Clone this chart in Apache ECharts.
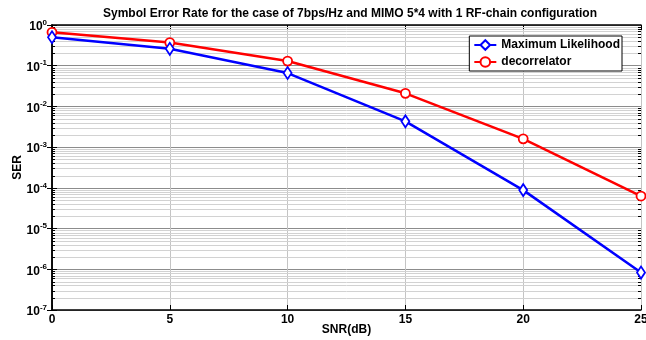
<!DOCTYPE html>
<html>
<head>
<meta charset="utf-8">
<script src="https://cdn.jsdelivr.net/npm/echarts@6/dist/echarts.min.js"></script>
<style>
  html, body { margin: 0; padding: 0; background: #fff; }
  #main { width: 646px; height: 340px; }
</style>
</head>
<body>
<div id="main"></div>
<script>
// SNR points (dB)
var snr = [0, 5, 10, 15, 20, 25];
// symbol error rates
var serML = [0.5, 0.26, 0.066, 0.0043, 0.000088, 0.00000083];
var serDecor = [0.66, 0.37, 0.13, 0.021, 0.0016, 0.000063];
var xTicks = [0, 5, 10, 15, 20, 25];

// minor grid values 2..9 x 10^k
var minorLines = [];
for (var k = -7; k < 0; k++) {
  for (var m = 2; m <= 9; m++) minorLines.push(m * Math.pow(10, k));
}

function pairs(xs, ys) {
  return xs.map(function (x, i) { return [x, ys[i]]; });
}

var chart = echarts.init(document.getElementById('main'));
var font = 'Liberation Sans, Arial, sans-serif';

function expLabel(v) {
  var e = Math.round(Math.log10(v));
  return '{b|10}{s|' + e + '}';
}

// light minor grid line plus short ticks on both sides
function renderMinor(params, api) {
  var v = api.value(1);
  var p0 = api.coord([0, v]);
  var p1 = api.coord([25, v]);
  var y = Math.round(p0[1]) + 0.5;
  return {
    type: 'group',
    children: [
      { type: 'line', shape: { x1: p0[0], y1: y, x2: p1[0], y2: y },
        style: { stroke: '#d2d2d2', lineWidth: 1 } },
      { type: 'line', shape: { x1: p0[0], y1: y, x2: p0[0] + 3, y2: y },
        style: { stroke: '#000', lineWidth: 1 } },
      { type: 'line', shape: { x1: p1[0] - 3, y1: y, x2: p1[0], y2: y },
        style: { stroke: '#000', lineWidth: 1 } }
    ]
  };
}

var option = {
  animation: false,
  title: {
    text: 'Symbol Error Rate for the case of 7bps/Hz and MIMO 5*4 with 1 RF-chain configuration',
    left: 345, textAlign: 'center', top: 3,
    textStyle: { fontFamily: font, fontSize: 12, fontWeight: 'bold', color: '#000' }
  },
  grid: { left: 52, right: 5, top: 25, bottom: 30, containLabel: false, outerBoundsMode: 'none' },
  legend: {
    right: 24, top: 36, orient: 'vertical', z: 20,
    backgroundColor: '#fff', borderColor: '#000', borderWidth: 1,
    padding: [3, 2, 3, 4], itemGap: 5, itemWidth: 22, itemHeight: 12,
    textStyle: { fontFamily: font, fontSize: 12, fontWeight: 'bold', color: '#000' },
    data: ['Maximum Likelihood', 'decorrelator']
  },
  xAxis: [{
    type: 'value', min: 0, max: 25, interval: 5,
    name: 'SNR(dB)', nameLocation: 'middle', nameGap: 14, nameMoveOverlap: false,
    nameTextStyle: { fontFamily: font, fontSize: 12, fontWeight: 'bold', color: '#000' },
    axisLine: { lineStyle: { color: '#000', width: 1.5 } },
    axisTick: { inside: true, length: 5, lineStyle: { color: '#000' } },
    axisLabel: { fontFamily: font, fontSize: 12, fontWeight: 'bold', color: '#000', margin: 4,
      formatter: function (v) { return xTicks.indexOf(v) >= 0 ? String(v) : ''; } },
    splitLine: { show: true, lineStyle: { color: '#c4c4c4', width: 1 } }
  }, {
    type: 'value', min: 0, max: 25, interval: 5, position: 'top',
    axisLine: { lineStyle: { color: '#000', width: 1.5 } },
    axisTick: { inside: true, length: 5, lineStyle: { color: '#000' } },
    axisLabel: { show: false }, splitLine: { show: false }
  }],
  yAxis: [{
    type: 'log', logBase: 10, min: 1e-7, max: 1, interval: 1,
    name: 'SER', nameLocation: 'middle', nameGap: 28, nameRotate: 90, nameMoveOverlap: false,
    nameTextStyle: { fontFamily: font, fontSize: 12, fontWeight: 'bold', color: '#000' },
    axisLine: { show: true, lineStyle: { color: '#000', width: 1.5 } },
    axisTick: { inside: true, length: 5, lineStyle: { color: '#000' } },
    axisLabel: {
      margin: 5, formatter: expLabel,
      rich: {
        b: { fontFamily: font, fontSize: 12, fontWeight: 'bold', color: '#000', padding: [4, 0, 0, 0] },
        s: { fontFamily: font, fontSize: 8, fontWeight: 'bold', color: '#000', padding: [0, 0, 5, 0] }
      }
    },
    splitLine: { show: true, lineStyle: { color: '#8c8c8c', width: 1 } }
  }, {
    type: 'log', logBase: 10, min: 1e-7, max: 1, interval: 1, position: 'right',
    axisLine: { show: true, lineStyle: { color: '#000', width: 1.5 } },
    axisTick: { inside: true, length: 5, lineStyle: { color: '#000' } },
    axisLabel: { show: false }, splitLine: { show: false }
  }],
  series: [{
    name: 'minor', type: 'custom', silent: true, z: 1,
    renderItem: renderMinor,
    data: minorLines.map(function (v) { return [0, v]; })
  }, {
    name: 'decorrelator', type: 'line', data: pairs(snr, serDecor),
    symbol: 'circle', symbolSize: 9, z: 3,
    lineStyle: { color: '#ff0000', width: 2.5 },
    itemStyle: { color: '#fff', borderColor: '#ff0000', borderWidth: 1.8 }
  }, {
    name: 'Maximum Likelihood', type: 'line', data: pairs(snr, serML),
    symbol: 'diamond', symbolSize: [8, 12], z: 4,
    lineStyle: { color: '#0000ff', width: 2.5 },
    itemStyle: { color: '#fff', borderColor: '#0000ff', borderWidth: 1.8 }
  }]
};
chart.setOption(option);
</script>
</body>
</html>
